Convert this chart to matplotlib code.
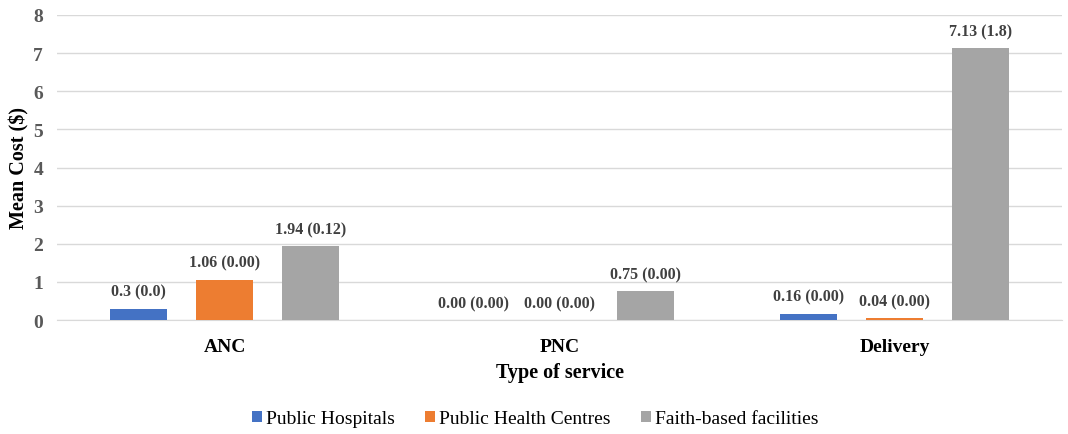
import numpy as np
import matplotlib.pyplot as plt

plt.rcParams['font.family'] = ['Liberation Serif', 'DejaVu Serif']

# data
services = ['ANC', 'PNC', 'Delivery']
facilities = ['Public Hospitals', 'Public Health Centres', 'Faith-based facilities']
hospitals = [0.30, 0.00, 0.16]
health_centres = [1.06, 0.00, 0.04]
faith_based = [1.94, 0.75, 7.13]
hospitals_lbl = ['0.3 (0.0)', '0.00 (0.00)', '0.16 (0.00)']
health_centres_lbl = ['1.06 (0.00)', '0.00 (0.00)', '0.04 (0.00)']
faith_based_lbl = ['1.94 (0.12)', '0.75 (0.00)', '7.13 (1.8)']

colors = ['#4472C4', '#ED7D31', '#A5A5A5']

fig = plt.figure(figsize=(10.68, 4.35), dpi=100)
ax = fig.add_axes([57 / 1068, 1 - 321 / 435, 1005 / 1068, 305 / 435])

x = np.arange(len(services))
width = 0.172
offset = 0.257
series = [(hospitals, hospitals_lbl), (health_centres, health_centres_lbl),
          (faith_based, faith_based_lbl)]
for i, (vals, lbls) in enumerate(series):
    pos = x + (i - 1) * offset
    ax.bar(pos, vals, width, color=colors[i], label=facilities[i], zorder=3)
    for px, v, t in zip(pos, vals, lbls):
        ax.annotate(t, (px, v), xytext=(0, 6.5), textcoords='offset points',
                    ha='center', va='bottom', fontsize=11.5, fontweight='bold',
                    color='#404040')

ax.set_xlim(-0.5, 2.5)
ax.set_ylim(0, 8)
ax.set_yticks(range(0, 9))
ax.set_xticks(x)
ax.set_xticklabels(services, fontsize=14, fontweight='bold')
for lab in ax.get_yticklabels():
    lab.set_fontsize(14)
    lab.set_fontweight('bold')
    lab.set_color('#595959')
ax.tick_params(axis='both', length=0)
ax.tick_params(axis='y', pad=10)
ax.tick_params(axis='x', pad=13)
ax.grid(axis='y', color='#D9D9D9', linewidth=1, zorder=0)
for s in ['top', 'right', 'left']:
    ax.spines[s].set_visible(False)
ax.spines['bottom'].set_color('#D9D9D9')

ax.set_xlabel('Type of service', fontsize=14.5, fontweight='bold', labelpad=5)
ax.set_ylabel('Mean Cost ($)', fontsize=14.5, fontweight='bold', labelpad=3)

fig.legend(loc='center', bbox_to_anchor=(535 / 1068, 1 - 420 / 435), ncol=3,
           frameon=False, fontsize=14, handlelength=0.52, handleheight=0.52,
           handletextpad=0.2, columnspacing=1.55)

fig.savefig('out.png', dpi=100)
